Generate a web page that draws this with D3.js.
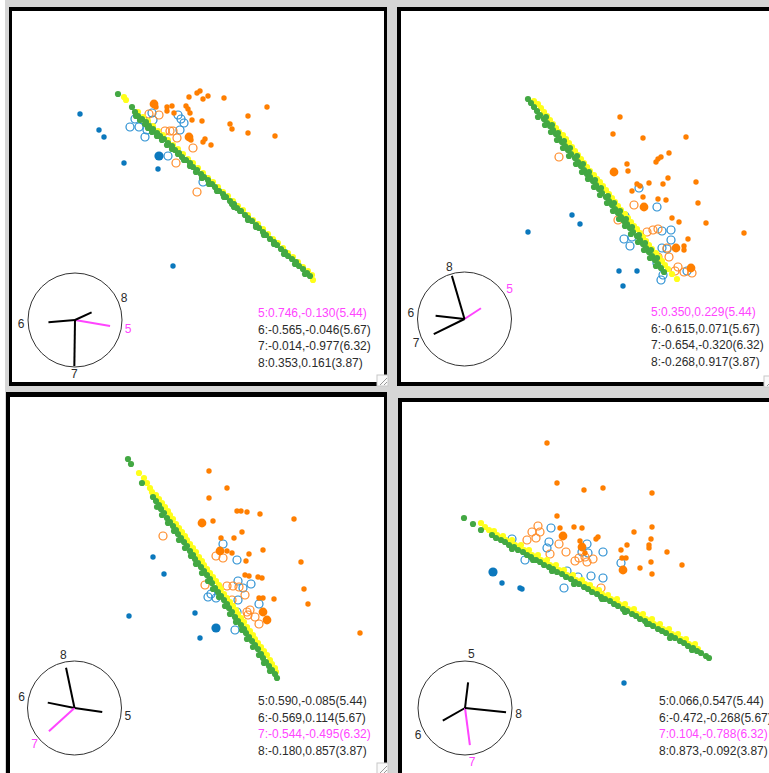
<!DOCTYPE html>
<html>
<head>
<meta charset="utf-8">
<script src="https://cdn.jsdelivr.net/npm/d3@7"></script>
<style>
body { margin:0; background:#fff; }
svg { display:block; }
</style>
</head>
<body>
<svg id="chart" width="769" height="773"></svg>
<script>
'use strict'

// tour variables and their scale factors
const varIds = [5, 6, 7, 8];
const varScale = [5.44, 5.67, 6.32, 3.87];
// projection coefficients per panel
const coefX = [[0.746, -0.565, -0.014, 0.353], [0.350, -0.615, -0.654, -0.268], [0.590, -0.569, -0.544, -0.180], [0.066, -0.472, 0.104, 0.873]];
const coefY = [[-0.130, -0.046, -0.977, 0.161], [0.229, 0.071, -0.320, 0.917], [-0.085, 0.114, -0.495, 0.857], [0.547, -0.268, -0.788, -0.092]];
const activeVar = [5, 5, 7, 7];

// projected points per panel (panel units)
const greenPts = [
  [[106,83],[120,96],[123,101],[126,105],[130,108],[134,111],[137,115],[141,118],[145,122],[148,125],[152,128],[156,132],[160,135],[163,139],[167,142],[170,146],[174,149],[178,152],[181,156],[185,159],[189,163],[192,166],[196,169],[200,173],[203,176],[207,180],[211,183],[214,186],[218,190],[222,193],[225,197],[229,200],[233,204],[236,207],[240,210],[244,214],[247,217],[251,221],[254,224],[258,228],[262,231],[265,234],[269,238],[273,241],[276,245],[280,248],[284,251],[287,255],[291,258],[295,262],[298,265],
   [124,105],[128,109],[133,113],[136,117],[140,121],[145,125],[150,129],[155,134],[160,138],[166,143],[172,149],[178,155],[184,161],[190,167],[197,173],[205,180],[212,186],[220,193],[222,196],[228,200],[236,209],[244,216],[252,224],[262,233],[272,243],[283,253],[293,263]],
  [[127,88],[130,92],[133,96],[136,100],[139,104],[143,108],[146,112],[149,115],[152,119],[155,123],[158,127],[161,131],[164,135],[167,139],[170,143],[174,147],[177,151],[180,155],[183,159],[186,163],[189,166],[192,170],[195,174],[198,178],[201,182],[205,186],[208,190],[211,194],[214,198],[217,202],[220,206],[223,210],[226,213],[229,217],[232,221],[236,225],[239,229],[242,233],[245,237],[248,241],[251,245],[254,249],[257,253],[260,257],[263,261],
   [137,106],[144,114],[150,121],[156,129],[162,137],[168,145],[175,153],[181,161],[187,168],[193,176],[199,184],[206,192],[212,200],[218,208],[224,215],[230,223],[237,231],[243,239],[249,247],[255,255],
   [145,106],[151,114],[157,122],[163,130],[169,137],[176,145],[182,153],[188,161],[194,169],[200,177],[207,185],[213,192],[219,200],[225,208],[231,216],[238,224],[244,232],[250,239],[256,247]],
  [[118,62],[121,67],[132,86],[143,100],[146,104],[149,108],[151,112],[154,116],[157,121],[160,125],[163,129],[166,133],[168,137],[171,141],[174,145],[177,149],[180,154],[183,158],[185,162],[188,166],[191,170],[194,174],[197,178],[200,182],[202,186],[205,191],[208,195],[211,199],[214,203],[217,207],[219,211],[222,215],[225,220],[228,224],[231,228],[234,232],[236,236],[239,240],[242,244],[245,248],[248,252],[251,257],[253,261],[256,265],[259,269],[262,273],[265,277],[267,281],
   [147,110],[152,118],[158,126],[164,134],[169,143],[175,151],[181,159],[186,167],[192,176],[198,184],[203,192],[209,200],[215,209],[220,217],[226,225],[232,233],[237,242],[243,250],[249,258],[254,266],[260,274]],
  [[62,116],[71,122],[79,128],[90,133],[94,136],[99,138],[103,140],[107,143],[112,145],[116,148],[121,150],[125,153],[129,155],[134,158],[138,160],[142,163],[147,165],[151,167],[155,170],[160,172],[164,175],[169,177],[173,180],[177,182],[182,185],[186,187],[190,190],[195,192],[199,195],[203,197],[208,199],[212,202],[216,204],[221,207],[225,209],[230,212],[234,214],[238,217],[243,219],[247,222],[251,224],[256,227],[260,229],[264,231],[269,234],[273,236],[278,239],[282,241],[286,244],[291,246],[295,249],[299,251],[304,254],[307,256],
   [110,147],[131,158],[150,169],[172,182],[200,197],[223,210],[245,222],[268,236],[290,248]]
];
const yellowPts = [
  [[112,86],[114,89],[126,101],[131,106],[136,110],[141,115],[146,120],[151,124],[156,129],[161,134],[166,138],[171,143],[176,148],[181,152],[186,157],[191,162],[196,167],[201,171],[206,176],[211,181],[216,185],[221,190],[226,195],[231,199],[236,204],[241,209],[246,213],[251,218],[256,223],[261,228],[266,232],[271,237],[276,242],[281,246],[286,251],[291,256],[296,260],[300,264],[301,269]],
  [[133,90],[137,93],[140,97],[143,101],[146,105],[149,109],[152,113],[155,117],[158,121],[162,124],[165,128],[168,132],[171,136],[174,140],[177,144],[180,148],[183,152],[186,156],[189,160],[193,164],[196,168],[199,171],[202,175],[205,179],[208,183],[211,187],[214,191],[217,195],[220,199],[224,203],[227,207],[230,211],[233,215],[236,218],[239,222],[242,226],[245,230],[248,234],[251,238],[255,242],[258,246],[261,250],[264,254],[267,258],[271,263],[276,268]],
  [[129,76],[134,81],[137,86],[140,91],[142,95],[146,98],[149,102],[152,106],[155,110],[158,114],[160,118],[163,122],[166,127],[169,131],[172,135],[175,139],[177,143],[180,147],[183,151],[186,155],[189,160],[192,164],[194,168],[197,172],[200,176],[203,180],[206,184],[209,188],[211,192],[214,197],[217,201],[220,205],[223,209],[226,213],[228,217],[231,221],[234,225],[237,230],[240,234],[243,238],[245,242],[248,246],[251,250],[254,254],[257,258],[260,263],[262,267],[265,271],[266,275]],
  [[79,121],[83,125],[87,128],[91,131],[95,133],[100,136],[104,138],[108,141],[113,143],[117,146],[122,148],[126,151],[130,153],[135,155],[139,158],[143,160],[148,163],[152,165],[157,168],[161,170],[165,173],[170,175],[174,178],[178,180],[183,182],[187,185],[191,187],[196,190],[200,192],[204,195],[209,197],[213,200],[217,202],[222,205],[226,207],[231,210],[235,212],[239,215],[244,217],[248,220],[252,222],[257,224],[261,227],[265,229],[270,232],[274,234],[279,237],[283,239],[287,242],[292,244],[296,247],
   [92,129],[101,134],[110,138],[119,143],[127,148],[136,153],[145,158],[154,163],[162,168],[171,173],[180,178],[188,183],[197,188],[206,193],[215,197],[223,202],[232,207],[241,212],[250,217],[258,222],[267,227],[276,232],[284,237],[293,242]]
];
const orangePts = [
  [[144,96],[155,96],[160,95],[155,100],[162,102],[185,82],[188,80],[191,88],[196,85],[177,86],[174,95],[176,98],[178,102],[180,109],[190,110],[212,87],[255,96],[236,105],[218,113],[220,118],[236,122],[263,125],[179,129],[193,128],[191,131],[199,134]],
  [[219,106],[212,123],[242,127],[285,126],[268,142],[257,148],[255,151],[260,146],[226,153],[227,160],[236,173],[239,175],[248,172],[262,173],[267,167],[231,180],[295,171],[242,186],[257,188],[265,189],[297,192],[271,207],[278,211],[305,212],[343,222],[287,228],[283,235],[283,239]],
  [[199,74],[217,91],[199,101],[227,114],[231,114],[237,115],[250,117],[284,122],[203,124],[232,135],[224,141],[211,141],[217,154],[222,156],[253,153],[239,157],[236,164],[291,165],[235,178],[239,179],[248,180],[252,181],[294,192],[249,201],[253,201],[264,202],[298,207],[350,236]],
  [[145,41],[155,81],[182,88],[201,86],[250,91],[155,114],[158,126],[172,125],[180,126],[196,135],[194,137],[178,139],[232,130],[250,125],[249,137],[225,143],[247,143],[247,146],[219,148],[265,150],[220,156],[224,156],[249,160],[280,163],[238,166],[250,172],[183,151]]
];
const orangeBig = [
  [[142,93],[177,126]],
  [[213,161],[243,196],[275,237],[290,257]],
  [[192,126],[210,154],[253,215],[257,223]],
  [[161,134],[180,145],[221,168]]
];
const orangeOpen = [
  [[137,103],[147,104],[153,120],[158,120],[161,120],[165,127],[181,137],[164,152],[185,181]],
  [[158,146],[233,194],[217,209],[246,221],[252,219],[257,218],[266,237],[257,246],[268,246],[277,256],[274,260],[291,262],[283,261]],
  [[153,139],[206,159],[213,161],[195,188],[217,189],[223,189],[229,190],[235,198],[222,203],[237,215],[240,213],[238,218],[245,220],[249,227]],
  [[136,124],[130,130],[138,130],[125,138],[134,136],[157,142],[164,150],[148,152],[173,159],[177,156],[183,155],[185,160],[191,157],[199,186]]
];
const bluePts = [
  [[68,103],[87,119],[92,126],[112,152],[146,158],[161,255]],
  [[127,221],[171,204],[179,213],[218,260],[236,260],[222,275]],
  [[143,160],[154,177],[119,219],[185,216],[190,241]],
  [[100,181],[118,186],[120,187],[222,281]]
];
const blueBig = [[[147,145]], [], [[206,231]], [[91,170]]];
const blueOpen = [
  [[118,116],[123,108],[127,116],[133,126],[135,119],[140,102],[141,109],[131,109],[166,104],[169,108],[168,119],[172,112],[156,145],[191,171]],
  [[238,177],[256,196],[224,205],[223,228],[229,235],[231,226],[261,220],[270,219],[270,229],[261,237],[266,238],[256,252],[262,264],[260,269],[286,260]],
  [[213,147],[227,163],[228,184],[241,187],[233,191],[198,200],[201,197],[206,201],[228,203],[227,215],[249,207],[225,233]],
  [[149,126],[147,140],[145,146],[110,137],[123,158],[185,142],[180,150],[186,151],[201,150],[219,161],[165,169],[176,175],[189,174],[201,176],[162,186]]
];

const ORANGE = '#ff7f00', BLUE = '#0b78bd', GREEN = '#43a843', YELLOW = '#ffff1a', MAGENTA = '#ff45ff', INK = '#2b2b2b';

// window frames (outer border, interior) and widget / text anchors
const panels = [
  {ox:9, oy:7, ow:378, oh:379, ix:12, iy:11, iw:372, ih:371, cx:75, cy:320, tx:258},
  {ox:397, oy:7, ow:420, oh:379, ix:401, iy:11, iw:420, ih:371, cx:464.5, cy:319, tx:651},
  {ox:6, oy:392, ow:381, oh:420, ix:10, iy:397, iw:374, ih:420, cx:74.5, cy:708, tx:258},
  {ox:398, oy:398, ow:420, oh:420, ix:402, iy:402, iw:420, ih:420, cx:465, cy:708, tx:659}
];
const R = 47;

const svg = d3.select('#chart');
svg.append('rect').attr('width', 769).attr('height', 773).attr('fill', '#d6d6d6');
svg.append('rect').attr('width', 5).attr('height', 773).attr('fill', '#fff');

panels.forEach(function(p, i) {
  svg.append('rect').attr('x', p.ox).attr('y', p.oy).attr('width', p.ow).attr('height', p.oh).attr('fill', '#000');
  svg.append('rect').attr('x', p.ix).attr('y', p.iy).attr('width', p.iw).attr('height', p.ih).attr('fill', '#fff');

  svg.append('clipPath').attr('id', 'clip' + i)
    .append('rect').attr('x', p.ix).attr('y', p.iy).attr('width', p.iw).attr('height', p.ih);
  const g = svg.append('g').attr('clip-path', 'url(#clip' + i + ')');

  const sx = d3.scaleLinear().domain([0, 100]).range([p.ix, p.ix + 100]);
  const sy = d3.scaleLinear().domain([0, 100]).range([p.iy, p.iy + 100]);

  function dots(data, r, fill, stroke) {
    g.append('g').selectAll('circle').data(data).enter().append('circle')
      .attr('cx', function(d) { return sx(d[0]); })
      .attr('cy', function(d) { return sy(d[1]); })
      .attr('r', r)
      .attr('fill', fill)
      .attr('stroke', stroke || 'none')
      .attr('stroke-width', stroke ? 1.2 : 0);
  }
  dots(blueOpen[i], 4, 'none', '#2a8fd2');
  dots(orangeOpen[i], 4, 'none', '#ff8a26');
  dots(yellowPts[i], 3.1, YELLOW);
  dots(greenPts[i], 3.1, GREEN);
  dots(orangePts[i], 2.7, ORANGE);
  dots(orangeBig[i], 4.4, ORANGE);
  dots(bluePts[i], 2.7, BLUE);
  dots(blueBig[i], 4.6, BLUE);

  // axis widget
  const ax = d3.scaleLinear().domain([-1, 1]).range([p.cx - R, p.cx + R]);
  const ay = d3.scaleLinear().domain([-1, 1]).range([p.cy + R, p.cy - R]);
  g.append('circle').attr('cx', p.cx).attr('cy', p.cy).attr('r', R)
    .attr('fill', 'none').attr('stroke', '#333').attr('stroke-width', 1);
  varIds.forEach(function(v, j) {
    const on = v === activeVar[i];
    g.append('line')
      .attr('x1', ax(0)).attr('y1', ay(0))
      .attr('x2', ax(coefX[i][j])).attr('y2', ay(coefY[i][j]))
      .attr('stroke', on ? MAGENTA : '#000').attr('stroke-width', 2);
    const len = Math.hypot(coefX[i][j], coefY[i][j]);
    const lx = p.cx + (coefX[i][j] / len) * (R + 7);
    const ly = p.cy - (coefY[i][j] / len) * (R + 7);
    g.append('text').attr('x', lx).attr('y', ly)
      .attr('text-anchor', 'middle').attr('dominant-baseline', 'central')
      .attr('font-family', '"Liberation Sans", Arial, sans-serif').attr('font-size', 12)
      .attr('fill', on ? MAGENTA : INK).text(v);
  });

  // coefficient labels
  varIds.forEach(function(v, j) {
    g.append('text')
      .attr('x', p.tx).attr('y', p.cy - 7 + j * 16.5)
      .attr('dominant-baseline', 'central')
      .attr('font-family', '"Liberation Sans", Arial, sans-serif').attr('font-size', 12)
      .attr('fill', v === activeVar[i] ? MAGENTA : INK)
      .text(v + ':' + coefX[i][j].toFixed(3) + ',' + coefY[i][j].toFixed(3) + '(' + varScale[j].toFixed(2) + ')');
  });
});

// resize grips
[[377, 375], [764, 376], [377, 763]].forEach(function(c) {
  const grip = svg.append('g').attr('transform', 'translate(' + c[0] + ',' + c[1] + ')');
  grip.append('rect').attr('width', 11).attr('height', 11).attr('fill', '#fafafa').attr('stroke', '#c8c8c8');
  grip.append('line').attr('x1', 3).attr('y1', 10).attr('x2', 10).attr('y2', 3).attr('stroke', '#999');
  grip.append('line').attr('x1', 7).attr('y1', 10).attr('x2', 10).attr('y2', 7).attr('stroke', '#999');
});
</script>
</body>
</html>
